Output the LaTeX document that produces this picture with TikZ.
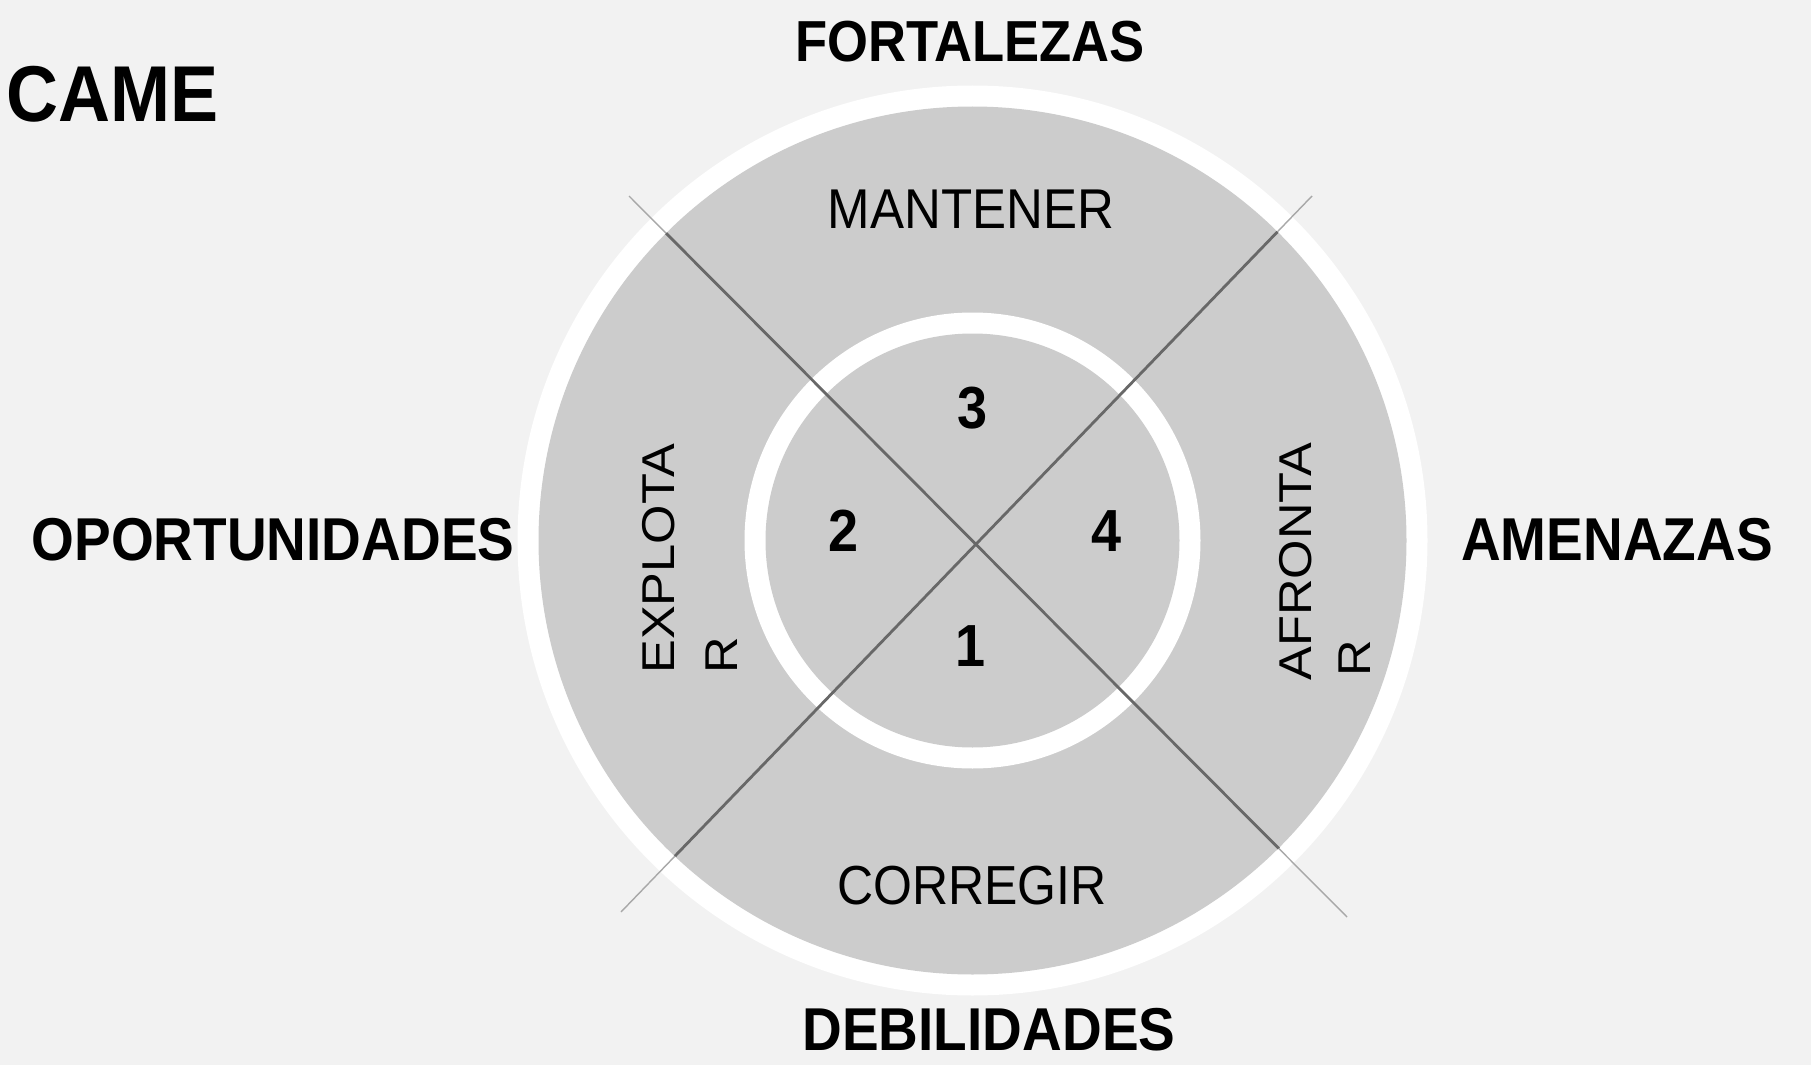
\documentclass[tikz,border=0pt]{standalone}
\usepackage{fontspec}
\setmainfont{Liberation Sans}
\usetikzlibrary{calc}
\definecolor{bg}{HTML}{F2F2F2}
\definecolor{ringgray}{HTML}{CCCCCC}
\definecolor{xdark}{HTML}{686868}
\definecolor{xlight}{HTML}{A8A8A8}
\tikzset{
  lbl/.style={inner sep=0pt, font=\bfseries\fontsize{27.5}{30}\selectfont, yscale=1.1},
  act/.style={inner sep=0pt, font=\fontsize{25}{30}\selectfont, yscale=1.1},
  num/.style={inner sep=0pt, font=\bfseries\fontsize{27}{30}\selectfont, yscale=1.1},
  vact/.style={inner sep=0pt, font=\fontsize{23}{30}\selectfont, rotate=90, xscale=1.1, anchor=base west},
  xline/.style={draw=xdark, line width=1.4pt},
  xtail/.style={draw=xlight, line width=0.7pt},
}
\begin{document}
\begin{tikzpicture}[x=0.5pt,y=0.5pt]
\fill[bg] (0,0) rectangle (1811,-1065);
\useasboundingbox (0,0) rectangle (1811,-1065);
\coordinate (c) at (972.5,-540.5);
% rings
\fill[white] (c) circle[radius=227.5pt];
\fill[ringgray] (c) circle[radius=217pt];
\fill[white] (c) circle[radius=114pt];
\fill[ringgray] (c) circle[radius=103.5pt];
% cross lines
\coordinate (a1) at (629,-196);
\coordinate (b1) at (1347,-917);
\coordinate (a2) at (1312,-196);
\coordinate (b2) at (621,-912);
\coordinate (p1) at ($(a1)!0.0516!(b1)$);
\coordinate (q1) at ($(a1)!0.905!(b1)$);
\coordinate (p2) at ($(a2)!0.05!(b2)$);
\coordinate (q2) at ($(a2)!0.922!(b2)$);
\draw[xtail] (a1) -- (p1);
\draw[xline] (p1) -- (q1);
\draw[xtail] (q1) -- (b1);
\draw[xtail] (a2) -- (p2);
\draw[xline] (p2) -- (q2);
\draw[xtail] (q2) -- (b2);
% titles
\node[lbl, anchor=west, font=\bfseries\fontsize{36}{40}\selectfont] (came) at (6,-94) {CAME};
\node[lbl, font=\bfseries\fontsize{26.3}{30}\selectfont] (fort) at (970,-41.6) {FORTALEZAS};
\node[lbl] (opor) at (273,-540) {OPORTUNIDADES};
\node[lbl] (amen) at (1617,-540) {AMENAZAS};
\node[lbl] (debi) at (989,-1030) {DEBILIDADES};
% actions
\node[act, font=\fontsize{25.5}{30}\selectfont] (mant) at (971,-209) {MANTENER};
\node[act] (corr) at (972,-886) {CORREGIR};
\node[vact] (expl1) at (674,-674) {EXPLOTA};
\node[vact] (expl2) at (737,-674) {R};
\node[vact] (afro1) at (1311,-681) {AFRONTA};
\node[vact] (afro2) at (1370,-677) {R};
% numbers
\node[num] (n3) at (973,-408) {3};
\node[num] (n2) at (843.5,-531) {2};
\node[num] (n4) at (1106.5,-531) {4};
\node[num] (n1) at (971,-646) {1};
\end{tikzpicture}
\end{document}
